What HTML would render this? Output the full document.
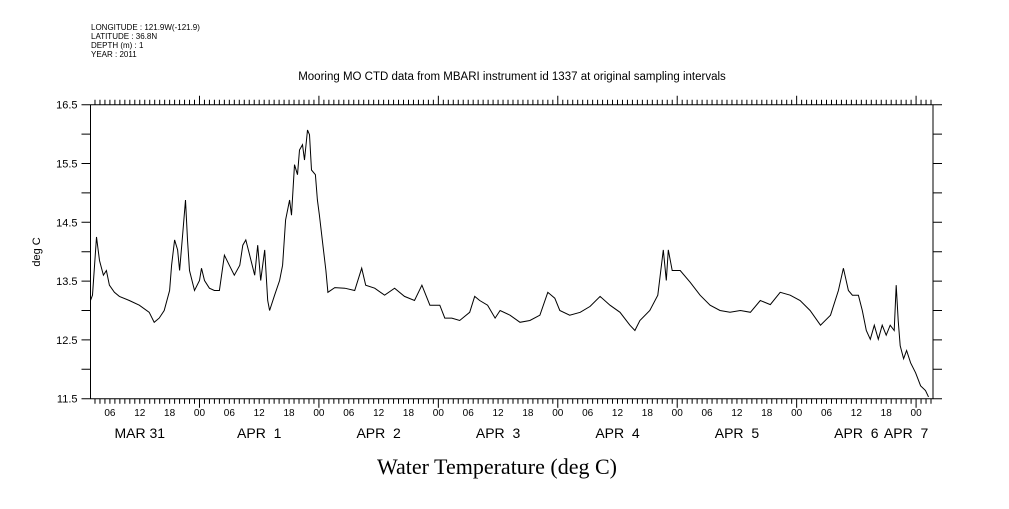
<!DOCTYPE html>
<html><head><meta charset="utf-8"><style>
body{margin:0;background:#fff;}
svg text{font-family:"Liberation Sans",sans-serif;fill:#000;}
</style></head><body>
<svg id="chart" width="1009" height="504" xmlns="http://www.w3.org/2000/svg">
<g font-size="8">
<text x="91" y="30" font-size="8">LONGITUDE : 121.9W(-121.9)</text>
<text x="91" y="39" font-size="8">LATITUDE : 36.8N</text>
<text x="91" y="48" font-size="8">DEPTH (m) : 1</text>
<text x="91" y="57" font-size="8">YEAR : 2011</text>
</g>
<text x="512" y="80" font-size="11.5" text-anchor="middle">Mooring MO CTD data from MBARI instrument id 1337 at original sampling intervals</text>
<text transform="translate(40,252) rotate(-90)" font-size="11" text-anchor="middle">deg C</text>
<text x="497" y="474" font-size="22" text-anchor="middle" style="font-family:'Liberation Serif',serif">Water Temperature (deg C)</text>
<g id="axes"></g>
<path id="series" fill="none" stroke="#000" stroke-width="1"/>
</svg>
<script>
const hours=[2.1,2.5,3.3,3.9,4.7,5.3,5.9,6.9,7.9,9.9,11.9,13.9,14.9,15.9,16.9,18.0,18.4,19.0,19.6,20.0,20.6,21.2,21.6,22.0,23.0,24.0,24.4,25.0,26.0,27.0,28.0,29.0,30.0,31.0,32.1,32.7,33.3,34.1,35.1,35.7,36.3,37.1,37.7,38.1,39.1,40.1,40.7,41.3,42.1,42.5,43.1,43.7,44.1,44.7,45.1,45.7,46.1,46.5,47.3,47.7,48.1,48.8,49.4,49.8,51.2,53.2,55.2,56.6,57.4,59.2,61.2,63.2,65.2,67.2,68.7,70.3,72.3,73.3,74.7,76.3,78.3,79.3,80.3,81.9,83.4,84.4,86.4,88.4,90.4,92.4,94.0,95.4,96.4,98.4,100.5,102.5,104.5,106.5,108.5,110.5,111.5,112.5,114.5,116.1,117.2,117.8,118.2,119.0,120.6,122.6,124.6,126.6,128.6,130.6,132.7,134.7,136.7,138.7,140.7,142.7,144.7,146.7,148.8,150.8,152.4,153.4,154.4,155.2,156.4,157.2,158.0,158.8,159.6,160.4,161.2,162.0,162.8,163.6,164.0,164.4,164.8,165.5,166.1,166.9,167.9,168.9,169.9,170.5];
const temps=[13.17,13.26,14.25,13.85,13.60,13.68,13.43,13.31,13.24,13.17,13.09,12.97,12.80,12.87,13.00,13.34,13.77,14.20,14.03,13.68,14.28,14.88,14.20,13.68,13.34,13.51,13.72,13.51,13.38,13.34,13.34,13.94,13.77,13.60,13.77,14.11,14.20,13.94,13.60,14.11,13.51,14.03,13.17,13.00,13.26,13.51,13.77,14.54,14.88,14.62,15.48,15.31,15.73,15.82,15.56,16.07,15.99,15.39,15.31,14.88,14.62,14.11,13.68,13.31,13.39,13.38,13.34,13.72,13.43,13.38,13.26,13.38,13.24,13.17,13.43,13.09,13.09,12.87,12.87,12.83,12.97,13.24,13.17,13.09,12.87,13.00,12.92,12.80,12.83,12.92,13.31,13.21,13.00,12.92,12.97,13.07,13.24,13.09,12.97,12.75,12.66,12.83,13.00,13.26,14.03,13.51,14.03,13.68,13.68,13.48,13.26,13.09,13.00,12.97,13.00,12.97,13.17,13.10,13.31,13.26,13.17,13.00,12.75,12.92,13.34,13.72,13.34,13.26,13.26,13.00,12.66,12.51,12.75,12.51,12.75,12.58,12.75,12.66,13.43,12.83,12.40,12.18,12.32,12.11,11.94,11.72,11.64,11.53];
const yTicks=[11.5,12.5,13.5,14.5,15.5,16.5];
const hourLabels=["06","12","18","00"];
const dayLabels=["MAR 31","APR  1","APR  2","APR  3","APR  4","APR  5","APR  6","APR  7"];
const X0=90.5,X1=933,Y0=104.7,Y1=398.7,H0=2.1,H1=171.4,T0=11.5,T1=16.5;
const xs=h=>X0+(h-H0)/(H1-H0)*(X1-X0);
const ys=t=>Y1-(t-T0)/(T1-T0)*(Y1-Y0);
const NS="http://www.w3.org/2000/svg";
const g=document.getElementById('axes');
function el(tag,attrs,txt){const e=document.createElementNS(NS,tag);for(const k in attrs)e.setAttribute(k,attrs[k]);if(txt!==undefined)e.textContent=txt;g.appendChild(e);return e;}
let d=`M${X0},${Y0}H${X1}V${Y1}H${X0}Z`;
for(let t=T0;t<=T1+1e-6;t+=0.5){const y=ys(t);d+=`M${X0-9},${y}H${X0}M${X1},${y}H${X1+9}`;}
for(let h=Math.ceil(H0);h<=H1;h++){const x=xs(h);const len=(h%24===0)?9:5;d+=`M${x},${Y1}V${Y1+len}M${x},${Y0}V${Y0-len}`;}
const frame=el('path',{d:d,fill:'none',stroke:'#000','stroke-width':1});


yTicks.forEach(t=>{const e=el('text',{x:X0-13,y:ys(t)+4,'font-size':11,'text-anchor':'end'},t.toFixed(1));

});
for(let h=Math.ceil(H0/6)*6;h<=H1;h+=6){const e=el('text',{x:xs(h),y:416,'font-size':10,'text-anchor':'middle'},hourLabels[(h/6-1+4)%4]);

}
dayLabels.forEach((lab,i)=>{let h=i*24+12;if(i===7)h=i*24;const e=el('text',{x:xs(h)+(i===7?-10:0),y:438,'font-size':14,'text-anchor':'middle',style:'white-space:pre'},lab);

});
document.getElementById('series').setAttribute('d',hours.map((h,i)=>(i?'L':'M')+xs(h).toFixed(1)+','+ys(temps[i]).toFixed(1)).join(''));
</script>
</body></html>
